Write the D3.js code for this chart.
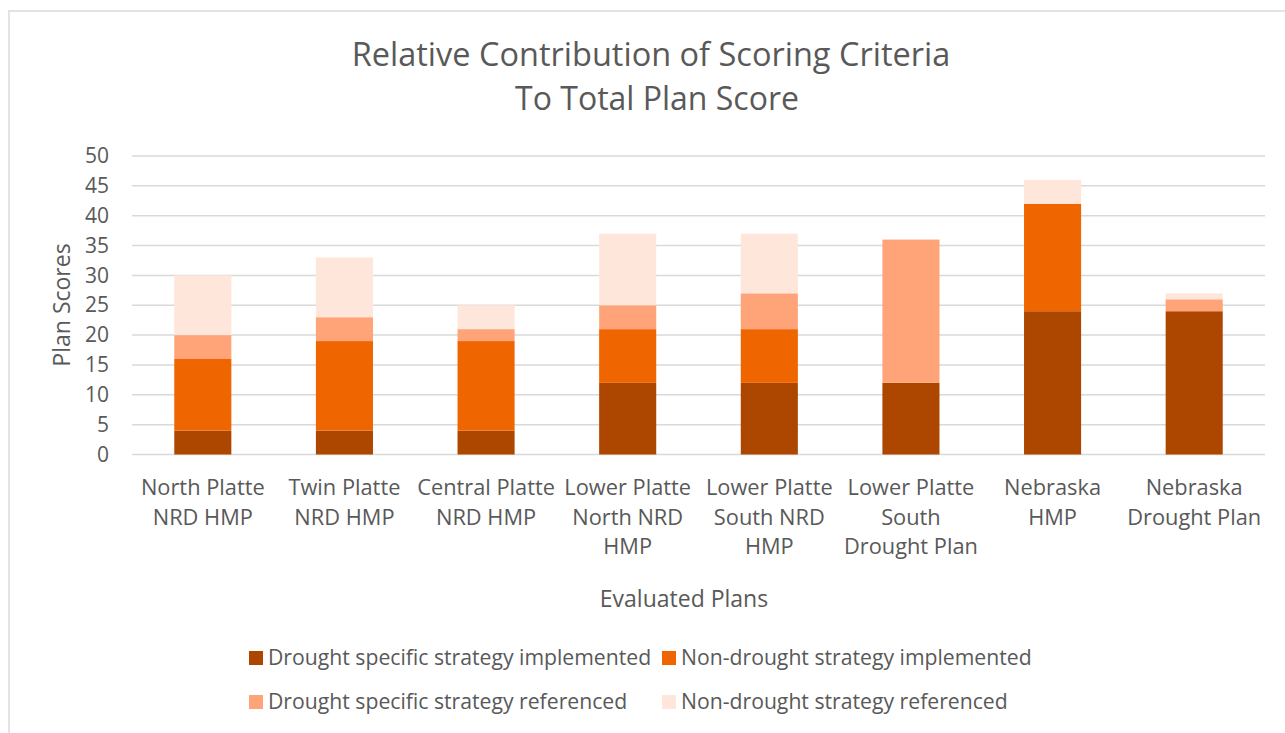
<!DOCTYPE html>
<html>
  <head>
    <meta charset="utf-8">
    <title>Relative Contribution of Scoring Criteria</title>
    <script src="https://cdn.jsdelivr.net/npm/d3@7"></script>
    <style>
      body { margin: 0; background: #fff; }
      text { font-family: 'Open Sans', sans-serif; fill: #595959; }
    </style>
  </head>
  <body>
    <svg width="1285" height="733" id="mainsvg"></svg>
    <script>
        // plans (x categories), each label split in lines
        const plans = [
          ['North Platte', 'NRD HMP'],
          ['Twin Platte', 'NRD HMP'],
          ['Central Platte', 'NRD HMP'],
          ['Lower Platte', 'North NRD', 'HMP'],
          ['Lower Platte', 'South NRD', 'HMP'],
          ['Lower Platte', 'South', 'Drought Plan'],
          ['Nebraska', 'HMP'],
          ['Nebraska', 'Drought Plan']
        ];
        const seriesNames = ['Drought specific strategy implemented', 'Non-drought strategy implemented',
          'Drought specific strategy referenced', 'Non-drought strategy referenced'];
        const colors = ['#ad4700', '#ef6500', '#ffa479', '#ffe6db'];

        const droughtImpl    = [4, 4, 4, 12, 12, 12, 24, 24];
        const nonDroughtImpl = [12, 15, 15, 9, 9, 0, 18, 0];
        const droughtRef     = [4, 4, 2, 4, 6, 24, 0, 2];
        const nonDroughtRef  = [10, 10, 4, 12, 10, 0, 4, 1];
        const yTicks = [0, 5, 10, 15, 20, 25, 30, 35, 40, 45, 50];

        const keys = ['s0', 's1', 's2', 's3'];
        const table = plans.map((p, i) => ({
          id: i, s0: droughtImpl[i], s1: nonDroughtImpl[i], s2: droughtRef[i], s3: nonDroughtRef[i]
        }));
        const stacked = d3.stack().keys(keys)(table);

        const svg = d3.select('#mainsvg');

        // outer frame
        svg.append('rect').attr('x', 9).attr('y', 11).attr('width', 1300).attr('height', 760)
          .attr('fill', 'none').attr('stroke', '#e3e3e3').attr('stroke-width', 2);

        const xScale = d3.scaleBand()
          .domain(plans.map((p, i) => i))
          .range([132, 1265])
          .paddingInner(0.597).paddingOuter(0.2985);

        const yScale = d3.scaleLinear().domain([0, 50]).range([454.5, 156]);

        // gridlines
        svg.append('g').selectAll('line').data(yTicks).join('line')
          .attr('x1', 132).attr('x2', 1265)
          .attr('y1', d => yScale(d)).attr('y2', d => yScale(d))
          .attr('stroke', '#d9d9d9').attr('stroke-width', 1.5);

        // y axis labels
        const yAxis = d3.axisLeft(yScale).tickValues(yTicks).tickSize(0).tickPadding(0);
        const yg = svg.append('g').attr('transform', 'translate(109,0)').call(yAxis);
        yg.select('.domain').remove();
        yg.selectAll('text').attr('font-size', 21).attr('fill', '#595959')
          .style('font-family', "'Open Sans', sans-serif");

        // bars
        svg.append('g').selectAll('g').data(stacked).join('g')
          .attr('fill', (d, i) => colors[i])
          .selectAll('rect').data(d => d).join('rect')
          .attr('x', d => xScale(d.data.id))
          .attr('width', xScale.bandwidth())
          .attr('y', d => yScale(d[1]))
          .attr('height', d => yScale(d[0]) - yScale(d[1]));

        // category labels
        const xl = svg.append('g').selectAll('text').data(plans).join('text')
          .attr('text-anchor', 'middle')
          .attr('font-size', 21.8)
          .attr('x', (d, i) => xScale(i) + xScale.bandwidth() / 2);
        xl.selectAll('tspan').data(d => d).join('tspan')
          .attr('x', function() { return d3.select(this.parentNode).attr('x'); })
          .attr('y', (d, j) => 495 + j * 29.5)
          .text(d => d);

        // title
        svg.append('text').attr('x', 651).attr('y', 66).attr('text-anchor', 'middle')
          .attr('font-size', 32.5).text('Relative Contribution of Scoring Criteria');
        svg.append('text').attr('x', 657).attr('y', 110).attr('text-anchor', 'middle')
          .attr('font-size', 32).text('To Total Plan Score');

        // axis titles
        svg.append('text').attr('x', 684).attr('y', 607).attr('text-anchor', 'middle')
          .attr('font-size', 23).text('Evaluated Plans');
        svg.append('text').attr('transform', 'translate(70,305) rotate(-90)')
          .attr('text-anchor', 'middle').attr('font-size', 23).text('Plan Scores');

        // legend
        const legendPos = [[249, 658], [662, 658], [249, 702], [662, 702]];
        const lg = svg.append('g').selectAll('g').data(seriesNames).join('g')
          .attr('transform', (d, i) => `translate(${legendPos[i][0]}, ${legendPos[i][1]})`);
        lg.append('rect').attr('x', 0).attr('y', -7).attr('width', 14).attr('height', 14)
          .attr('fill', (d, i) => colors[i]);
        lg.append('text').attr('x', 19).attr('y', 7).attr('font-size', 21.2).text(d => d);
    </script>
  </body>
</html>
